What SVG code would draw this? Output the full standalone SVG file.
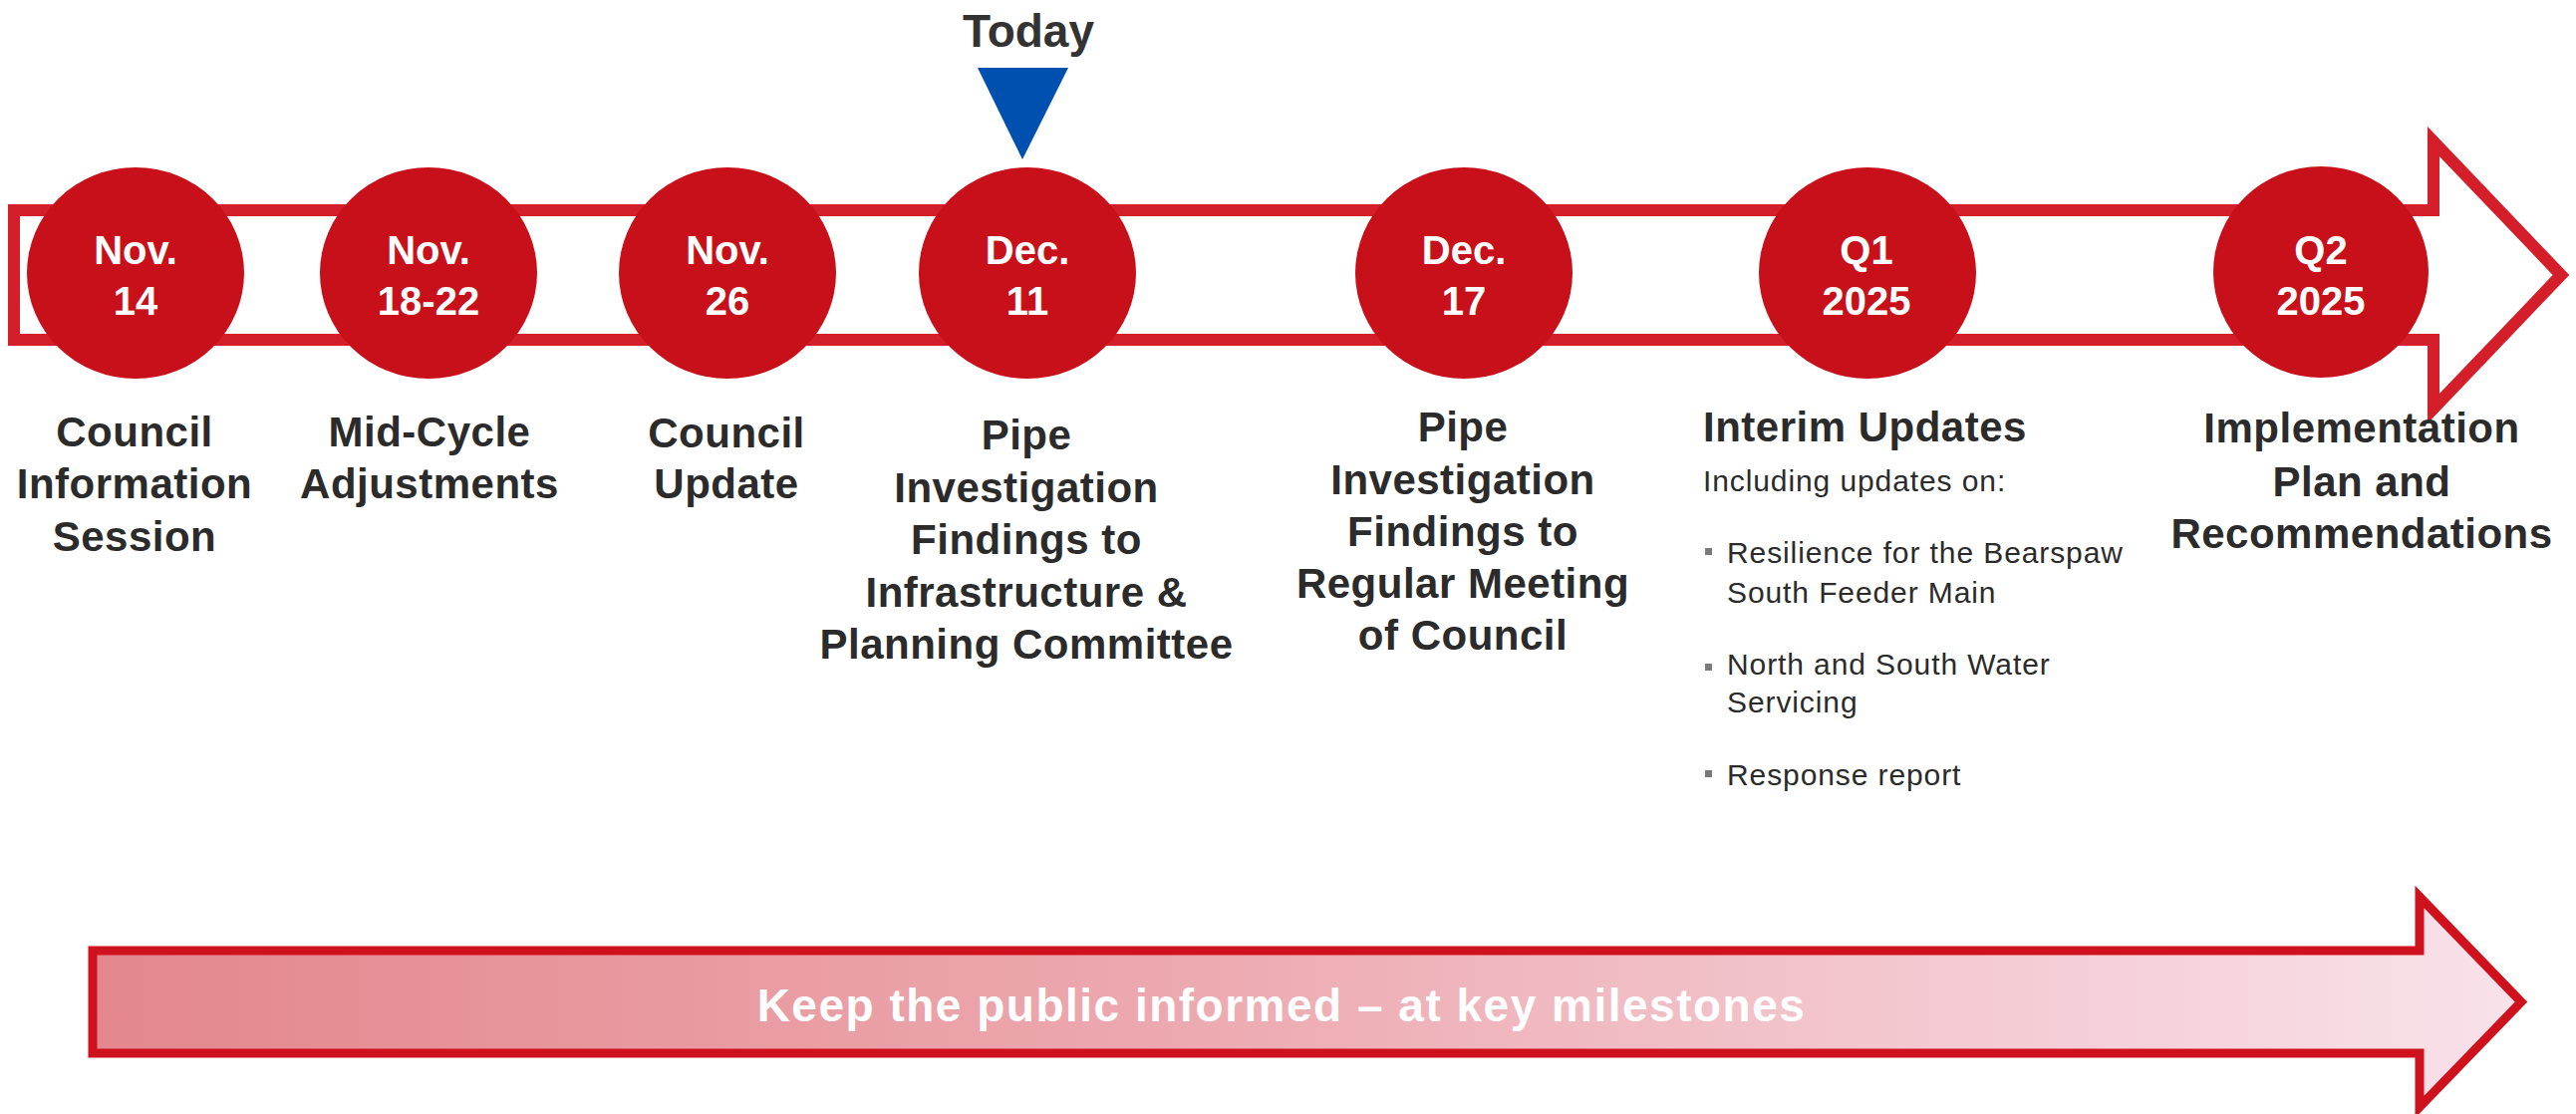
<svg xmlns="http://www.w3.org/2000/svg" width="2585" height="1118" viewBox="0 0 2585 1118">
  <defs>
    <linearGradient id="pubGrad" x1="93" y1="0" x2="2530" y2="0" gradientUnits="userSpaceOnUse">
      <stop offset="0" stop-color="#E3878D"/>
      <stop offset="0.45" stop-color="#EDA9B0"/>
      <stop offset="1" stop-color="#F9E2EA"/>
    </linearGradient>
  </defs>
  <style>
    .band { fill: #FFFFFF; stroke: #D41E2A; stroke-width: 12; stroke-linejoin: miter; stroke-miterlimit: 10; }
    .pub { fill: url(#pubGrad); stroke: #CF111D; stroke-width: 9; stroke-linejoin: miter; stroke-miterlimit: 10; }
    .dot { fill: #C8101A; }
    .date { font-family: "Liberation Sans", Arial, sans-serif; font-weight: bold; font-size: 40px; fill: #FFFFFF; text-anchor: middle; }
    .lbl { font-family: "Liberation Sans", Arial, sans-serif; font-weight: bold; font-size: 42px; letter-spacing: 0.5px; fill: #2B2B2B; text-anchor: middle; }
    .lblL { font-family: "Liberation Sans", Arial, sans-serif; font-weight: bold; font-size: 42px; letter-spacing: 0.5px; fill: #2B2B2B; }
    .sub { font-family: "Liberation Sans", Arial, sans-serif; font-size: 30px; letter-spacing: 0.9px; fill: #2B2B2B; }
    .bul { fill: #7A7A7A; }
    .today { font-family: "Liberation Sans", Arial, sans-serif; font-weight: bold; font-size: 46px; fill: #333333; text-anchor: middle; }
    .pubtxt { font-family: "Liberation Sans", Arial, sans-serif; font-weight: bold; font-size: 46px; letter-spacing: 1.5px; fill: #FFFFFF; text-anchor: middle; }
  </style>

  <g id="connectors">
    <path id="timeline-arrow" class="band" d="M14,211 L2442,211 L2442,142 L2570,276 L2442,410 L2442,341 L14,341 Z"/>
    <path id="public-arrow" class="pub" d="M93,954 L2428,954 L2428,900 L2530,1005.5 L2428,1111 L2428,1057 L93,1057 Z"/>
  </g>

  <g id="today-marker">
    <text class="today" x="1032" y="47">Today</text>
    <polygon points="981,68 1072,68 1026,160" fill="#0050B0"/>
  </g>

  <g id="node-nov14">
    <ellipse class="dot" cx="136" cy="274" rx="109" ry="106"/>
    <text class="date" x="136" y="265">Nov.</text>
    <text class="date" x="136" y="316">14</text>
    <text class="lbl" x="135" y="448">Council</text>
    <text class="lbl" x="135" y="500">Information</text>
    <text class="lbl" x="135" y="553">Session</text>
  </g>

  <g id="node-nov18">
    <ellipse class="dot" cx="430" cy="274" rx="109" ry="106"/>
    <text class="date" x="430" y="265">Nov.</text>
    <text class="date" x="430" y="316">18-22</text>
    <text class="lbl" x="431" y="448">Mid-Cycle</text>
    <text class="lbl" x="431" y="500">Adjustments</text>
  </g>

  <g id="node-nov26">
    <ellipse class="dot" cx="730" cy="274" rx="109" ry="106"/>
    <text class="date" x="730" y="265">Nov.</text>
    <text class="date" x="730" y="316">26</text>
    <text class="lbl" x="729" y="449">Council</text>
    <text class="lbl" x="729" y="500">Update</text>
  </g>

  <g id="node-dec11">
    <ellipse class="dot" cx="1031" cy="274" rx="109" ry="106"/>
    <text class="date" x="1031" y="265">Dec.</text>
    <text class="date" x="1031" y="316">11</text>
    <text class="lbl" x="1030" y="451">Pipe</text>
    <text class="lbl" x="1030" y="504">Investigation</text>
    <text class="lbl" x="1030" y="556">Findings to</text>
    <text class="lbl" x="1030" y="609">Infrastructure &amp;</text>
    <text class="lbl" x="1030" y="661">Planning Committee</text>
  </g>

  <g id="node-dec17">
    <ellipse class="dot" cx="1469" cy="274" rx="109" ry="106"/>
    <text class="date" x="1469" y="265">Dec.</text>
    <text class="date" x="1469" y="316">17</text>
    <text class="lbl" x="1468" y="443">Pipe</text>
    <text class="lbl" x="1468" y="496">Investigation</text>
    <text class="lbl" x="1468" y="548">Findings to</text>
    <text class="lbl" x="1468" y="600">Regular Meeting</text>
    <text class="lbl" x="1468" y="652">of Council</text>
  </g>

  <g id="node-q1">
    <ellipse class="dot" cx="1874" cy="274" rx="109" ry="106"/>
    <text class="date" x="1873" y="265">Q1</text>
    <text class="date" x="1873" y="316">2025</text>
    <text class="lblL" x="1709" y="443">Interim Updates</text>
    <text class="sub" x="1709" y="493">Including updates on:</text>
    <rect class="bul" x="1711" y="550" width="7" height="7"/>
    <text class="sub" x="1733" y="565">Resilience for the Bearspaw</text>
    <text class="sub" x="1733" y="605">South Feeder Main</text>
    <rect class="bul" x="1711" y="666" width="7" height="7"/>
    <text class="sub" x="1733" y="677">North and South Water</text>
    <text class="sub" x="1733" y="715">Servicing</text>
    <rect class="bul" x="1711" y="773" width="7" height="7"/>
    <text class="sub" x="1733" y="788">Response report</text>
  </g>

  <g id="node-q2">
    <ellipse class="dot" cx="2329" cy="273" rx="108" ry="106"/>
    <text class="date" x="2329" y="265">Q2</text>
    <text class="date" x="2329" y="316">2025</text>
    <text class="lbl" x="2370" y="444">Implementation</text>
    <text class="lbl" x="2370" y="498">Plan and</text>
    <text class="lbl" x="2370" y="550">Recommendations</text>
  </g>

  <g id="node-public">
    <text class="pubtxt" x="1286" y="1025">Keep the public informed – at key milestones</text>
  </g>
</svg>
